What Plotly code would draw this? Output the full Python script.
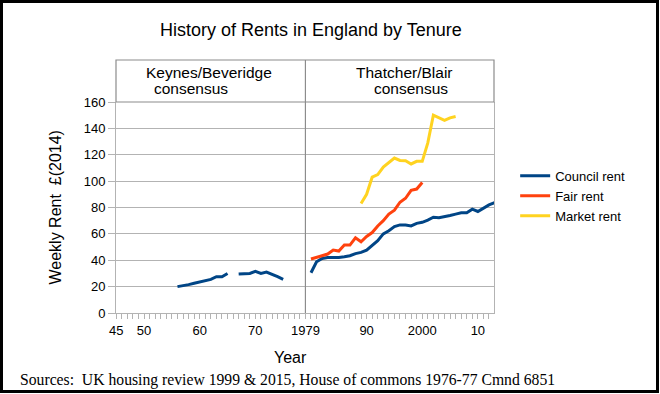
import plotly.graph_objects as go

# ---- data ----
council_years = list(range(1956, 1966)) + [None] + list(range(1967, 1976)) + [None] + list(range(1980, 2014))
council_values = [20, 20.5, 21.5, 22.5, 23.5, 24, 25.5, 27.5, 27.5, 30,
                  None,
                  29.5, 30, 30, 31.5, 30, 31, 29.5, 27.5, 25.5,
                  None,
                  30.5, 38.8, 41.4, 42, 42, 42, 42.6, 43.4, 45, 46,
                  47.7, 51, 54.8, 60, 62.4, 65.5, 66.8, 66.8, 66, 68,
                  68.8, 70.5, 72.6, 72.3, 73, 74, 75, 76, 76, 78.7,
                  77, 79.4, 82, 83.7]

fair_years = list(range(1980, 2001))
fair_values = [40.9, 42, 43.4, 44.7, 47.7, 47, 51.5, 51.5, 57, 54,
               58, 61, 66, 70, 75, 78, 84, 87, 93, 94, 99]

market_years = list(range(1989, 2007))
market_values = [83, 90, 103, 105, 110.7, 114, 117.5, 115.7, 115.5, 113,
                 115, 115, 129, 150, 148, 146, 148, 149]

tick_years = [1945, 1950, 1960, 1970, 1979, 1990, 2000, 2010]
tick_labels = ["45", "50", "60", "70", "1979", "90", "2000", "10"]

y_ticks = list(range(0, 161, 20))

era_labels = [("Keynes/Beveridge", "consensus"), ("Thatcher/Blair", "consensus")]
divider_year = 1979

FONT = "Liberation Sans, Arial, sans-serif"
GRID = "#b3b3b3"
BOX = "#8c8c8c"

fig = go.Figure()
fig.add_trace(go.Scatter(x=council_years, y=council_values, mode="lines", name="Council rent",
                         line=dict(color="#004586", width=3), connectgaps=False))
fig.add_trace(go.Scatter(x=fair_years, y=fair_values, mode="lines", name="Fair rent",
                         line=dict(color="#ff420e", width=3)))
fig.add_trace(go.Scatter(x=market_years, y=market_values, mode="lines", name="Market rent",
                         line=dict(color="#ffd320", width=3)))

plot_w = 378
plot_h = 211
box_top = 1 + 42 / plot_h

fig.update_layout(
    width=660, height=394,
    margin=dict(l=116, r=166, t=102, b=81, autoexpand=False),
    paper_bgcolor="white", plot_bgcolor="white",
    font=dict(family=FONT, size=13, color="#000000"),
    showlegend=True,
    legend=dict(x=1.056, y=0.555, xanchor="left", yanchor="middle",
                font=dict(size=13), bgcolor="rgba(0,0,0,0)", tracegroupgap=0),
    xaxis=dict(range=[1944.95, 2012.9], tickmode="array", tickvals=tick_years, ticktext=tick_labels,
               showgrid=False, zeroline=False, showline=True, linecolor=GRID, linewidth=1,
               ticks="outside", ticklen=5, tickcolor=GRID, automargin=False,
               minor=dict(dtick=1, tick0=1945, ticks="outside", ticklen=5, tickcolor=GRID, showgrid=False),
               tickfont=dict(size=13), fixedrange=True),
    yaxis=dict(range=[0, 160], tickvals=y_ticks, showgrid=True, gridcolor=GRID, gridwidth=1,
               zeroline=False, showline=True, linecolor=GRID, mirror=True, automargin=False,
               ticks="outside", ticklen=7, tickcolor=GRID, tickfont=dict(size=13), fixedrange=True),
)

shapes = [
    # era header box
    dict(type="rect", xref="paper", yref="paper", x0=0, x1=1, y0=1, y1=box_top,
         line=dict(color=BOX, width=1.2), fillcolor="rgba(0,0,0,0)", layer="above"),
    # divider at 1979 through the plot and header
    dict(type="line", xref="x", yref="paper", x0=divider_year, x1=divider_year, y0=0, y1=box_top,
         line=dict(color=BOX, width=1.2), layer="above"),
    # outer frame
    dict(type="rect", xref="paper", yref="paper",
         x0=-116 / plot_w + 1.5 / plot_w, x1=1 + 166 / plot_w - 2.5 / plot_w,
         y0=-81 / plot_h + 2.5 / plot_h, y1=1 + 102 / plot_h - 1.5 / plot_h,
         line=dict(color="#000000", width=3), fillcolor="rgba(0,0,0,0)"),
]
fig.update_layout(shapes=shapes)

ann = []
# era labels
ann.append(dict(x=(144 - 116) / plot_w, y=1 + (313 - 72 - 211) / plot_h, xref="paper", yref="paper",
                text=era_labels[0][0], showarrow=False, xanchor="left", yanchor="middle", font=dict(size=15.5)))
ann.append(dict(x=(152 - 116) / plot_w, y=1 + (313 - 89 - 211) / plot_h, xref="paper", yref="paper",
                text=era_labels[0][1], showarrow=False, xanchor="left", yanchor="middle", font=dict(size=15.5)))
ann.append(dict(x=(354 - 116) / plot_w, y=1 + (313 - 72 - 211) / plot_h, xref="paper", yref="paper",
                text=era_labels[1][0], showarrow=False, xanchor="left", yanchor="middle", font=dict(size=15.5)))
ann.append(dict(x=(372 - 116) / plot_w, y=1 + (313 - 89 - 211) / plot_h, xref="paper", yref="paper",
                text=era_labels[1][1], showarrow=False, xanchor="left", yanchor="middle", font=dict(size=15.5)))
# title
ann.append(dict(x=(311 - 116) / plot_w, y=1 + (313 - 30 - 211) / plot_h, xref="paper", yref="paper",
                text="History of Rents in England by Tenure", showarrow=False,
                xanchor="center", yanchor="middle", font=dict(size=18)))
# y title
ann.append(dict(x=(55 - 116) / plot_w, y=0.5, xref="paper", yref="paper", textangle=-90,
                text="Weekly Rent  £(2014)", showarrow=False, xanchor="center", yanchor="middle",
                font=dict(size=16)))
# x title
ann.append(dict(x=(290 - 116) / plot_w, y=-(357 - 313) / plot_h, xref="paper", yref="paper",
                text="Year", showarrow=False, xanchor="center", yanchor="middle", font=dict(size=16)))
# sources
ann.append(dict(x=(18 - 116) / plot_w, y=-(380 - 313) / plot_h, xref="paper", yref="paper",
                text="Sources:  UK housing review 1999 &amp; 2015, House of commons 1976-77 Cmnd 6851",
                showarrow=False, xanchor="left", yanchor="middle",
                font=dict(family="Liberation Serif, Times New Roman, serif", size=15.7)))
fig.update_layout(annotations=ann)

fig.write_html("out.html", config={"displayModeBar": False},
               post_script="document.body.style.margin='0';document.body.style.overflow='hidden';")
